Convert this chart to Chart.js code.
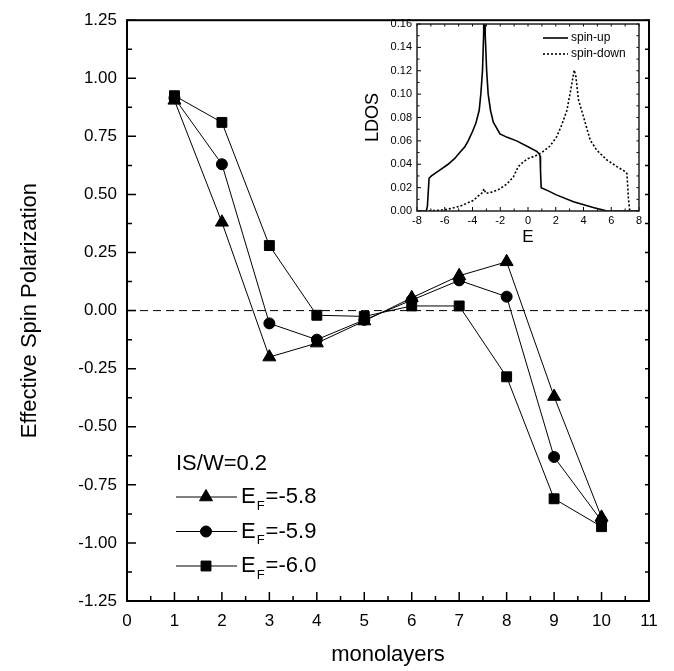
<!DOCTYPE html>
<html><head><meta charset="utf-8">
<script src="https://cdn.jsdelivr.net/npm/chart.js@4.4.0/dist/chart.umd.min.js"></script>
<style>
html,body{margin:0;padding:0;background:#fff;}
#wrap{position:relative;width:674px;height:671px;overflow:hidden;}
#main{position:absolute;left:0;top:0;}
#inset{position:absolute;left:360px;top:10px;}
</style></head><body>
<div id="wrap"><canvas id="main" width="674" height="671"></canvas><canvas id="inset" width="300" height="240"></canvas></div>
<script>
// ---- main chart data ----
const layers = [1, 2, 3, 4, 5, 6, 7, 8, 9, 10];
const polEF58 = [0.905, 0.38, -0.20, -0.14, -0.045, 0.055, 0.15, 0.21, -0.37, -0.89];
const polEF59 = [0.915, 0.63, -0.055, -0.125, -0.04, 0.045, 0.13, 0.06, -0.63, -0.905];
const polEF60 = [0.925, 0.81, 0.28, -0.02, -0.025, 0.02, 0.02, -0.285, -0.81, -0.93];
const seriesValues = ['-5.8', '-5.9', '-6.0'];
const seriesStyles = ['triangle', 'circle', 'rect'];
const legendTitle = 'IS/W=0.2';
const zeroLineX = [0, 11];
const zeroLineY = [0, 0];
// ---- inset data ----
const energyUp = [-8, -7.33, -7.25, -7.13, -6.96, -6.36, -5.76, -5.28, -4.92, -4.55, -4.31, -4.0, -3.76, -3.52, -3.4, -3.28, -3.2, -3.15, -3.1, -3.08, -2.98, -2.87, -2.7, -2.5, -2.02, -1.5, -0.82, 0.0, 0.63, 0.8, 0.87, 0.9, 0.95, 1.5, 2.0, 3.28, 4.7, 5.7, 8];
const ldosUp   = [0, 0, 0.004, 0.028, 0.030, 0.035, 0.040, 0.045, 0.050, 0.055, 0.060, 0.068, 0.075, 0.086, 0.100, 0.120, 0.150, 0.200, 0.200, 0.150, 0.120, 0.100, 0.086, 0.076, 0.066, 0.063, 0.060, 0.055, 0.051, 0.049, 0.047, 0.035, 0.020, 0.017, 0.014, 0.008, 0.003, 0, 0];
const energyDown = [-8, -7.2, -6.0, -4.92, -3.95, -3.47, -3.25, -3.18, -3.04, -2.5, -2.02, -1.54, -1.06, -0.7, -0.34, 0.02, 0.5, 0.99, 1.59, 2.07, 2.43, 2.8, 3.08, 3.33, 3.45, 3.64, 4.0, 4.48, 4.96, 5.69, 6.41, 7.01, 7.13, 7.23, 7.33, 8];
const ldosDown   = [0, 0, 0.001, 0.004, 0.009, 0.014, 0.016, 0.019, 0.015, 0.0165, 0.019, 0.023, 0.029, 0.038, 0.042, 0.045, 0.047, 0.050, 0.0556, 0.0636, 0.0736, 0.086, 0.1035, 0.1206, 0.115, 0.095, 0.0807, 0.0607, 0.052, 0.0436, 0.038, 0.0337, 0.032, 0.012, 0, 0];
const insetLegend = ['spin-up', 'spin-down'];

const FONT = "'Liberation Sans', Arial, Helvetica, sans-serif";
Chart.defaults.font.family = FONT;
Chart.defaults.color = '#000';

function pts(xs, ys) { return xs.map((x, i) => ({x: x, y: ys[i]})); }

function tickPlugin(id, o) {
  return {
    id: id,
    afterDatasetsDraw(chart) {
      const ctx = chart.ctx, a = chart.chartArea;
      const xs = chart.scales.x, ys = chart.scales.y;
      ctx.save();
      ctx.strokeStyle = '#000';
      ctx.lineWidth = o.tickWidth;
      ctx.beginPath();
      const xt = xs.ticks.map(t => t.value);
      const yt = ys.ticks.map(t => t.value);
      xt.forEach((v, i) => {
        const p = xs.getPixelForValue(v);
        ctx.moveTo(p, a.bottom); ctx.lineTo(p, a.bottom - o.major);
        if (o.top) { ctx.moveTo(p, a.top); ctx.lineTo(p, a.top + o.side); }
        if (i < xt.length - 1) {
          const m = xs.getPixelForValue((v + xt[i + 1]) / 2);
          ctx.moveTo(m, a.bottom); ctx.lineTo(m, a.bottom - o.minor);
          if (o.top) { ctx.moveTo(m, a.top); ctx.lineTo(m, a.top + o.side); }
        }
      });
      yt.forEach((v, i) => {
        const p = ys.getPixelForValue(v);
        ctx.moveTo(a.left, p); ctx.lineTo(a.left + o.major, p);
        ctx.moveTo(a.right, p); ctx.lineTo(a.right - o.side, p);
        if (i < yt.length - 1) {
          const m = ys.getPixelForValue((v + yt[i + 1]) / 2);
          ctx.moveTo(a.left, m); ctx.lineTo(a.left + o.minor, m);
          ctx.moveTo(a.right, m); ctx.lineTo(a.right - o.side, m);
        }
      });
      ctx.stroke();
      ctx.lineWidth = o.frame;
      ctx.strokeStyle = o.frameColor;
      ctx.strokeRect(a.left, a.top, a.right - a.left, a.bottom - a.top);
      ctx.restore();
    }
  };
}

const legendPlugin = {
  id: 'mainLegend',
  afterDraw(chart) {
    const ctx = chart.ctx;
    ctx.save();
    ctx.fillStyle = '#000'; ctx.strokeStyle = '#000';
    ctx.textBaseline = 'middle'; ctx.textAlign = 'left';
    ctx.font = '22px ' + FONT;
    ctx.fillText(legendTitle, 176, 464);
    for (let i = 0; i < 3; i++) {
      const ds = chart.data.datasets[i];
      const y = 497 + i * 34.5;
      ctx.lineWidth = 1;
      ctx.beginPath(); ctx.moveTo(176, y); ctx.lineTo(237, y); ctx.stroke();
      Chart.helpers.drawPoint(ctx, {pointStyle: ds.pointStyle, radius: ds.pointRadius, rotation: 0, borderWidth: 1}, 206, y);
      ctx.font = '22px ' + FONT;
      ctx.fillText('E', 241, y);
      let x = 241 + ctx.measureText('E').width + 1;
      ctx.font = '13px ' + FONT;
      ctx.fillText('F', x, y + 9);
      x += ctx.measureText('F').width + 1;
      ctx.font = '22px ' + FONT;
      ctx.fillText('=' + seriesValues[i], x, y);
    }
    ctx.restore();
  }
};

const seriesData = [polEF58, polEF59, polEF60];
const mainSets = seriesData.map((vals, i) => ({
  label: 'EF=' + seriesValues[i],
  data: pts(layers, vals),
  borderColor: '#000', backgroundColor: '#000',
  borderWidth: 1, tension: 0,
  pointStyle: seriesStyles[i],
  pointRadius: i === 0 ? 7.5 : (i === 1 ? 5.5 : 7),
  pointBackgroundColor: '#000', pointBorderColor: '#000', pointBorderWidth: 1
}));
mainSets.push({
  label: 'zero', data: pts(zeroLineX, zeroLineY),
  borderColor: '#000', borderWidth: 1, borderDash: [8, 5], pointRadius: 0, tension: 0
});

new Chart(document.getElementById('main'), {
  type: 'line',
  data: {datasets: mainSets},
  options: {
    responsive: false, animation: false,
    layout: {padding: {left: 0, right: 25, top: 15, bottom: 0}},
    plugins: {legend: {display: false}, tooltip: {enabled: false}},
    scales: {
      x: {
        type: 'linear', min: 0, max: 11,
        ticks: {stepSize: 1, autoSkip: false, maxRotation: 0, padding: 10, font: {size: 17}, color: '#000'},
        grid: {display: false, drawTicks: false}, border: {display: false},
        title: {display: true, text: 'monolayers', font: {size: 22}, color: '#000', padding: {top: 0, bottom: 3}},
        afterFit: s => { s.height = 70; }
      },
      y: {
        type: 'linear', min: -1.25, max: 1.25,
        ticks: {stepSize: 0.25, autoSkip: false, padding: 10, font: {size: 17}, color: '#000',
          callback: v => Number(v).toFixed(2)},
        grid: {display: false, drawTicks: false}, border: {display: false},
        title: {display: true, text: 'Effective Spin Polarization', font: {size: 22}, color: '#000', padding: {top: 17, bottom: 0}},
        afterFit: s => { s.width = 127; }
      }
    }
  },
  plugins: [tickPlugin('mainTicks', {major: 9, minor: 5, side: 4, tickWidth: 1.5, frame: 2, frameColor: '#000', top: false}), legendPlugin]
});

const insetLegendPlugin = {
  id: 'insetLegend',
  afterDraw(chart) {
    const ctx = chart.ctx;
    ctx.save();
    ctx.fillStyle = '#000'; ctx.strokeStyle = '#000';
    ctx.textBaseline = 'middle'; ctx.font = '12px ' + FONT;
    const rows = [28, 44];
    chart.data.datasets.forEach((ds, i) => {
      ctx.lineWidth = ds.borderWidth;
      ctx.setLineDash(ds.borderDash || []);
      ctx.beginPath(); ctx.moveTo(183, rows[i]); ctx.lineTo(208, rows[i]); ctx.stroke();
      ctx.setLineDash([]);
      ctx.fillText(insetLegend[i], 211, rows[i]);
    });
    ctx.restore();
  }
};

new Chart(document.getElementById('inset'), {
  type: 'line',
  data: {datasets: [
    {label: insetLegend[0], data: pts(energyUp, ldosUp), borderColor: '#000', borderWidth: 1.6, pointRadius: 0, tension: 0},
    {label: insetLegend[1], data: pts(energyDown, ldosDown), borderColor: '#000', borderWidth: 1.6, borderDash: [2, 2], pointRadius: 0, tension: 0}
  ]},
  options: {
    responsive: false, animation: false,
    layout: {padding: {left: 0, right: 21, top: 14, bottom: 0}},
    plugins: {legend: {display: false}, tooltip: {enabled: false}},
    scales: {
      x: {
        type: 'linear', min: -8, max: 8,
        ticks: {stepSize: 2, autoSkip: false, maxRotation: 0, padding: 3, font: {size: 11}, color: '#000'},
        grid: {display: false, drawTicks: false}, border: {display: false},
        title: {display: true, text: 'E', font: {size: 17}, color: '#000', padding: {top: 0, bottom: 2}},
        afterFit: s => { s.height = 39; }
      },
      y: {
        type: 'linear', min: 0, max: 0.16,
        ticks: {stepSize: 0.02, autoSkip: false, padding: 5, font: {size: 11}, color: '#000',
          callback: v => Number(v).toFixed(2)},
        grid: {display: false, drawTicks: false}, border: {display: false},
        title: {display: true, text: 'LDOS', font: {size: 18}, color: '#000', padding: {top: 2, bottom: 0}},
        afterFit: s => { s.width = 57; }
      }
    }
  },
  plugins: [tickPlugin('insetTicks', {major: 4, minor: 2.5, side: 2.5, tickWidth: 1, frame: 1.5, frameColor: '#222', top: true}), insetLegendPlugin]
});
</script>
</body></html>
